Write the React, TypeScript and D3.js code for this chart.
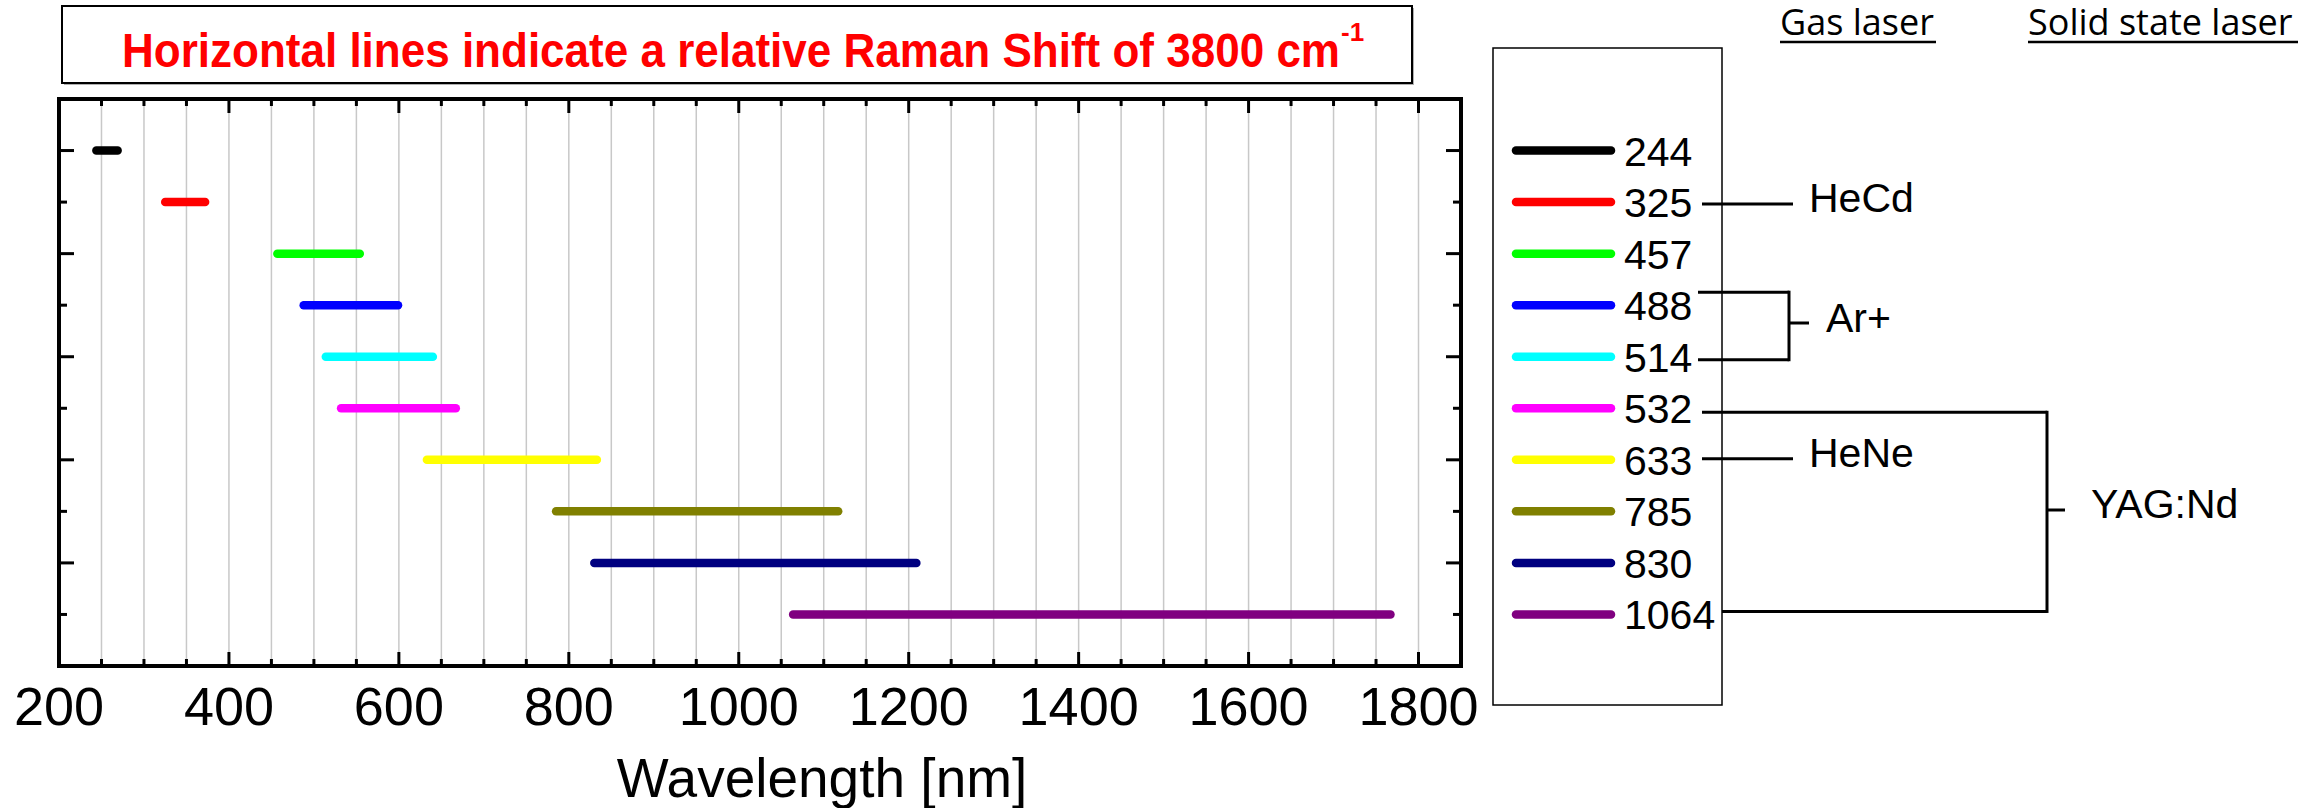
import React from "react";
import * as d3 from "d3";

// Excitation wavelength of each laser (nm) and the wavelength reached at a 3800 cm-1 Raman shift
const laserLines = [244, 325, 457, 488, 514, 532, 633, 785, 830, 1064];
const shiftedEnds = [269, 372, 554, 599, 640, 667, 833, 1117, 1209, 1767];
const lineColors = [
  "#000000", "#ff0000", "#00ff00", "#0000ff", "#00ffff",
  "#ff00ff", "#ffff00", "#808000", "#000080", "#800080",
];
const xTickLabels = [200, 400, 600, 800, 1000, 1200, 1400, 1600, 1800];

const W = 2318;
const H = 808;
const plot = { left: 59, right: 1461, top: 99, bottom: 666 };
const arial = "'Liberation Sans', Arial, Helvetica, sans-serif";

export default function App() {
  const x = d3.scaleLinear().domain([200, 1850]).range([plot.left, plot.right]);
  const y = d3.scaleLinear().domain([0, 11]).range([plot.top, plot.bottom]);
  const rows = laserLines.map((_, i) => i + 1);

  const minor = d3.range(250, 1850, 50);
  const line = (x1: number, y1: number, x2: number, y2: number, w = 3, key?: string) => (
    <line key={key} x1={x1} y1={y1} x2={x2} y2={y2} stroke="#000" strokeWidth={w} />
  );

  // legend geometry
  const lg = { left: 1493, right: 1722, top: 48, bottom: 705 };
  const ry = (i: number) => y(i + 1);

  return (
    <svg
      width={W}
      height={H}
      viewBox={`0 0 ${W} ${H}`}
      style={{ position: "absolute", left: 0, top: 0, background: "#fff" }}
    >
      <rect x={0} y={0} width={W} height={H} fill="#fff" />

      {/* title box */}
      <rect x={64} y={8} width={1350} height={77} fill="#b0b0b0" />
      <rect x={62} y={6} width={1350} height={77} fill="#fff" stroke="#000" strokeWidth={2} />
      <text
        x={122}
        y={67}
        fontFamily={arial}
        fontWeight="bold"
        fontSize={48}
        fill="#ff0000"
        textLength={1218}
        lengthAdjust="spacingAndGlyphs"
      >
        Horizontal lines indicate a relative Raman Shift of 3800 cm
      </text>
      <text x={1341} y={41} fontFamily={arial} fontWeight="bold" fontSize={26} fill="#ff0000">
        -1
      </text>

      {/* grid */}
      {minor.map((v) => (
        <line key={"g" + v} x1={x(v)} x2={x(v)} y1={plot.top} y2={plot.bottom} stroke="#c8c8c8" strokeWidth={1.5} />
      ))}

      {/* x ticks, bottom and top, pointing inward */}
      {minor.map((v) => {
        const len = v % 200 === 0 ? 14 : 7;
        return (
          <g key={"t" + v}>
            {line(x(v), plot.bottom, x(v), plot.bottom - len, 3)}
            {line(x(v), plot.top, x(v), plot.top + len, 3)}
          </g>
        );
      })}

      {/* y ticks, left and right */}
      {rows.map((r) => {
        const len = r % 2 === 1 ? 15 : 8;
        return (
          <g key={"y" + r}>
            {line(plot.left, y(r), plot.left + len, y(r), 3)}
            {line(plot.right, y(r), plot.right - len, y(r), 3)}
          </g>
        );
      })}

      {/* shift ranges */}
      {laserLines.map((l, i) => (
        <line
          key={"bar" + l}
          x1={x(l)}
          x2={x(shiftedEnds[i])}
          y1={y(i + 1)}
          y2={y(i + 1)}
          stroke={lineColors[i]}
          strokeWidth={8.5}
          strokeLinecap="round"
        />
      ))}

      {/* frame */}
      <rect
        x={plot.left}
        y={plot.top}
        width={plot.right - plot.left}
        height={plot.bottom - plot.top}
        fill="none"
        stroke="#000"
        strokeWidth={4}
      />

      {/* x tick labels */}
      {xTickLabels.map((v) => (
        <text key={"l" + v} x={x(v)} y={725} textAnchor="middle" fontFamily={arial} fontSize={54} fill="#000">
          {v}
        </text>
      ))}
      <text x={822} y={797} textAnchor="middle" fontFamily={arial} fontSize={55} fill="#000">
        Wavelength [nm]
      </text>

      {/* legend */}
      <rect x={lg.left} y={lg.top} width={lg.right - lg.left} height={lg.bottom - lg.top} fill="none" stroke="#000" strokeWidth={1.5} />
      {laserLines.map((l, i) => (
        <g key={"lg" + l}>
          <line x1={1516} x2={1611} y1={ry(i)} y2={ry(i)} stroke={lineColors[i]} strokeWidth={8.5} strokeLinecap="round" />
          <text x={1624} y={ry(i) + 15} fontFamily={arial} fontSize={41} fill="#000">
            {l}
          </text>
        </g>
      ))}

      {/* column headers */}
      <text x={1780} y={35} fontFamily="'Open Sans', sans-serif" fontSize={36} fill="#000">Gas laser</text>
      {line(1780, 42, 1936, 42, 2.5)}
      <text x={2028} y={35} fontFamily="'Open Sans', sans-serif" fontSize={36} fill="#000">Solid state laser</text>
      {line(2028, 42, 2298, 42, 2.5)}

      {/* laser type brackets */}
      {line(1702, ry(1) + 2, 1793, ry(1) + 2)}
      <text x={1809} y={212} fontFamily={arial} fontSize={41} fill="#000">HeCd</text>

      {line(1698, ry(3) - 13, 1789, ry(3) - 13)}
      {line(1698, ry(4) + 3, 1789, ry(4) + 3)}
      {line(1789, ry(3) - 14.5, 1789, ry(4) + 4.5)}
      {line(1789, 323, 1809, 323)}
      <text x={1826} y={332} fontFamily={arial} fontSize={41} fill="#000">Ar+</text>

      {line(1702, ry(6) - 1, 1793, ry(6) - 1)}
      <text x={1809} y={467} fontFamily={arial} fontSize={41} fill="#000">HeNe</text>

      {line(1702, ry(5) + 4, 2047, ry(5) + 4)}
      {line(lg.right, ry(9) - 3, 2047, ry(9) - 3)}
      {line(2047, ry(5) + 2.5, 2047, ry(9) - 1.5)}
      {line(2047, 510, 2065, 510)}
      <text x={2091} y={518} fontFamily={arial} fontSize={41} fill="#000">YAG:Nd</text>
    </svg>
  );
}
